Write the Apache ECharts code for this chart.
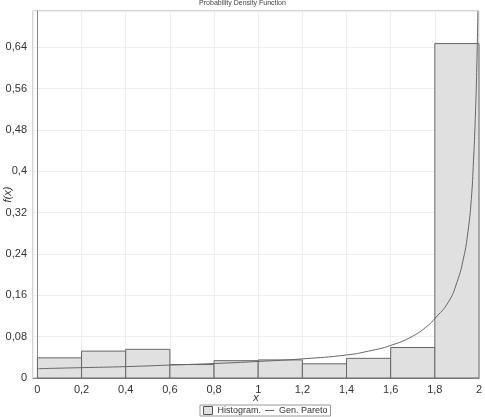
<!DOCTYPE html>
<html>
<head>
<meta charset="utf-8">
<script src="https://cdn.jsdelivr.net/npm/echarts@6/dist/echarts.min.js"></script>
<style>
  html, body { margin: 0; padding: 0; background: #fff; }
  #chart { width: 485px; height: 417px; }
</style>
</head>
<body>
<div id="chart"></div>
<script>
// histogram bins (start, end) and heights
const binStart = [0, 0.2, 0.4, 0.6, 0.8, 1.0, 1.2, 1.4, 1.6, 1.8];
const binEnd = [0.2, 0.4, 0.6, 0.8, 1.0, 1.2, 1.4, 1.6, 1.8, 2.0];
const binHeight = [0.039, 0.052, 0.0555, 0.026, 0.0335, 0.035, 0.0275, 0.038, 0.059, 0.647];

// fitted Gen. Pareto density
const curveX = [0, 0.2, 0.4, 0.6, 0.8, 1.0, 1.2, 1.4, 1.5, 1.6, 1.7, 1.77, 1.8, 1.86, 1.9, 1.93, 1.95, 1.965, 1.975, 1.983, 1.99, 1.995];
const curveY = [0.018, 0.020, 0.022, 0.025, 0.028, 0.032, 0.037, 0.0445, 0.052, 0.063, 0.081, 0.102, 0.115, 0.146, 0.185, 0.232, 0.283, 0.345, 0.42, 0.50, 0.60, 0.71];

const comma = v => String(+v.toFixed(4)).replace('.', ',');

let chartObj = echarts.init(document.getElementById('chart'));

let histData = binStart.map((s, i) => [s, binEnd[i], binHeight[i]]);
let curveData = curveX.map((x, i) => [x, curveY[i]]);

let options = {
    animation: false,
    backgroundColor: '#fff',
    title: {
        text: 'Probability Density Function',
        left: 'center',
        top: 0,
        padding: 0,
        textStyle: { fontSize: 7, fontWeight: 'normal', color: '#444', fontFamily: 'Liberation Sans' }
    },
    legend: {
        bottom: 1,
        left: 200,
        itemWidth: 9,
        itemHeight: 8,
        itemGap: 4,
        padding: [1, 3],
        borderColor: '#999',
        borderWidth: 1,
        textStyle: { fontSize: 9, color: '#333', fontFamily: 'Liberation Sans' },
        data: [
            { name: 'Histogram.', icon: 'rect', itemStyle: { color: '#e0e0e0', borderColor: '#555', borderWidth: 1 } },
            { name: 'Gen. Pareto', icon: 'path://M0,4.5L10,4.5L10,5.5L0,5.5Z', itemStyle: { color: '#555' } }
        ]
    },
    grid: {
        left: 33,
        right: 6,
        top: 11,
        bottom: 39,
        outerBoundsMode: 'none',
        show: true,
        borderColor: '#aaa',
        borderWidth: 1
    },
    xAxis: {
        type: 'value',
        min: -0.02,
        max: 2.0,
        splitNumber: 10,
        name: 'x',
        nameLocation: 'middle',
        nameGap: 14,
        nameMoveOverlap: false,
        nameTextStyle: { fontStyle: 'italic', fontSize: 11, color: '#333', fontFamily: 'Liberation Sans' },
        axisLine: { lineStyle: { color: '#888' } },
        axisTick: { show: false },
        axisLabel: { showMinLabel: false, fontSize: 11, color: '#333', fontFamily: 'Liberation Sans', margin: 6, formatter: comma },
        splitLine: { lineStyle: { color: '#eee' } }
    },
    yAxis: {
        type: 'value',
        min: 0,
        max: 0.71,
        interval: 0.08,
        name: 'f(x)',
        nameLocation: 'middle',
        nameGap: 20,
        nameMoveOverlap: false,
        nameTextStyle: { fontStyle: 'italic', fontSize: 11, color: '#333', fontFamily: 'Liberation Sans' },
        axisLine: { show: true, lineStyle: { color: '#888' } },
        axisTick: { show: false },
        axisLabel: { showMaxLabel: false, fontSize: 11, color: '#333', fontFamily: 'Liberation Sans', margin: 6, formatter: comma },
        splitLine: { lineStyle: { color: '#eee' } }
    },
    series: [
        {
            name: 'Histogram.',
            type: 'custom',
            itemStyle: { color: '#e0e0e0', borderColor: '#555' },
            renderItem: function (params, api) {
                let p0 = api.coord([api.value(0), api.value(2)]);
                let p1 = api.coord([api.value(1), 0]);
                return {
                    type: 'rect',
                    shape: { x: p0[0], y: p0[1], width: p1[0] - p0[0], height: p1[1] - p0[1] },
                    style: { fill: '#e0e0e0', stroke: '#666', lineWidth: 1 }
                };
            },
            encode: { x: [0, 1], y: 2 },
            data: histData
        },
        {
            name: 'Gen. Pareto',
            type: 'line',
            symbol: 'none',
            smooth: 0.5,
            lineStyle: { color: '#666', width: 1 },
            itemStyle: { color: '#666' },
            clip: true,
            data: curveData
        }
    ]
};
chartObj.setOption(options);
</script>
</body>
</html>
